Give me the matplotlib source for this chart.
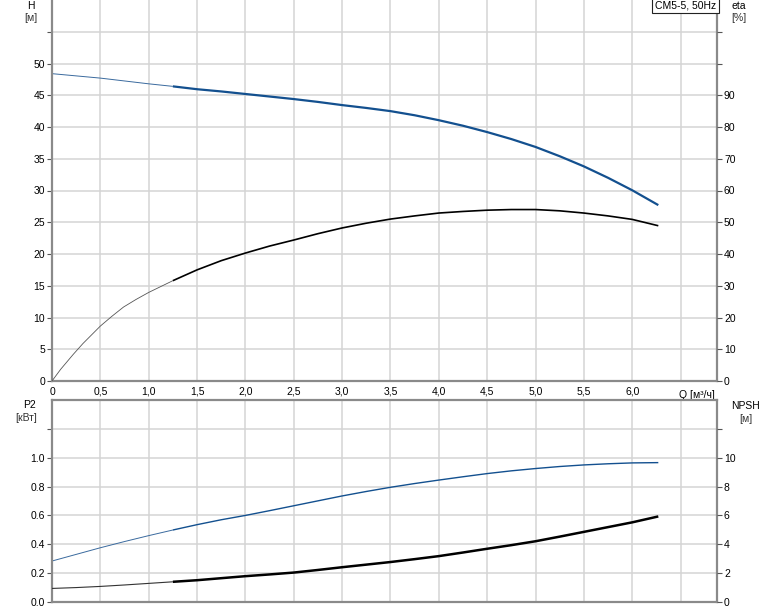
import matplotlib
matplotlib.use("Agg")
import matplotlib.pyplot as plt
import numpy as np

plt.rcParams['font.family'] = ['Liberation Sans', 'DejaVu Sans']

# ---- data ----
q_h = [0, 0.25, 0.5, 0.75, 1.0, 1.25, 1.5, 1.75, 2.0, 2.25, 2.5, 2.75, 3.0, 3.25, 3.5,
       3.75, 4.0, 4.25, 4.5, 4.75, 5.0, 5.25, 5.5, 5.75, 6.0, 6.27]
head = [48.4, 48.05, 47.7, 47.25, 46.8, 46.4, 45.95, 45.6, 45.2, 44.8, 44.4, 43.95, 43.45,
        43.0, 42.5, 41.85, 41.07, 40.2, 39.2, 38.1, 36.86, 35.4, 33.8, 32.0, 30.04, 27.7]

q_eta = [0, 0.09, 0.22, 0.32, 0.5, 0.62, 0.74, 0.87, 1.0, 1.25, 1.5, 1.75, 2.0, 2.25, 2.5,
         2.75, 3.0, 3.25, 3.5, 3.75, 4.0, 4.25, 4.5, 4.75, 5.0, 5.25, 5.5, 5.75, 6.0, 6.27]
eta = [0, 3.7, 8.4, 11.8, 17.3, 20.4, 23.3, 25.7, 27.9, 31.6, 35.0, 37.9, 40.3, 42.5, 44.4,
       46.4, 48.2, 49.7, 51.0, 52.0, 52.9, 53.4, 53.8, 54.0, 54.0, 53.6, 52.9, 52.0, 50.9, 48.9]

q_p = [0, 0.25, 0.5, 0.75, 1.0, 1.25, 1.5, 1.75, 2.0, 2.25, 2.5, 2.75, 3.0, 3.25, 3.5,
       3.75, 4.0, 4.25, 4.5, 4.75, 5.0, 5.25, 5.5, 5.75, 6.0, 6.27]
p2 = [0.284, 0.33, 0.376, 0.419, 0.46, 0.499, 0.536, 0.57, 0.60, 0.633, 0.667, 0.701, 0.735,
      0.766, 0.795, 0.821, 0.845, 0.868, 0.89, 0.909, 0.925, 0.939, 0.95, 0.958, 0.964, 0.966]

q_n = [0, 0.25, 0.5, 0.75, 1.0, 1.25, 1.5, 1.75, 2.0, 2.25, 2.5, 2.75, 3.0, 3.25, 3.5,
       3.75, 4.0, 4.25, 4.5, 4.75, 5.0, 5.25, 5.5, 5.75, 6.0, 6.27]
npsh = [0.94, 1.0, 1.08, 1.18, 1.29, 1.40, 1.51, 1.65, 1.79, 1.91, 2.04, 2.22, 2.41, 2.59,
        2.77, 2.97, 3.18, 3.43, 3.69, 3.94, 4.21, 4.53, 4.86, 5.19, 5.52, 5.93]

q_ticks = [0, 0.5, 1.0, 1.5, 2.0, 2.5, 3.0, 3.5, 4.0, 4.5, 5.0, 5.5, 6.0, 6.5]
q_labels = ['0', '0,5', '1,0', '1,5', '2,0', '2,5', '3,0', '3,5', '4,0', '4,5', '5,0', '5,5', '6,0', '']
h_ticks = [0, 5, 10, 15, 20, 25, 30, 35, 40, 45, 50, 55]
h_labels = ['0', '5', '10', '15', '20', '25', '30', '35', '40', '45', '50', '']
eta_ticks = [0, 10, 20, 30, 40, 50, 60, 70, 80, 90, 100, 110]
eta_labels = ['0', '10', '20', '30', '40', '50', '60', '70', '80', '90', '', '']
p_ticks = [0, 0.2, 0.4, 0.6, 0.8, 1.0, 1.2]
p_labels = ['0.0', '0.2', '0.4', '0.6', '0.8', '1.0', '']
n_ticks = [0, 2, 4, 6, 8, 10, 12]
n_labels = ['0', '2', '4', '6', '8', '10', '']

q_thick = 1.25
BLUE = '#13508f'
SPINE = '#8a8a8a'
GRID = '#d4d4d4'
FS = 7.5

W, H = 774, 611
fig = plt.figure(figsize=(W / 100, H / 100), dpi=100)

ax1 = fig.add_axes([52 / W, 1 - 381 / H, 665 / W, 381 / H])
ax2 = fig.add_axes([52 / W, 1 - 602 / H, 665 / W, 202 / H])
XMAX = 665 / 96.7


def style(ax, top_spine):
    ax.set_xlim(0, XMAX)
    ax.set_xticks(q_ticks)
    ax.grid(True, color=GRID, lw=1.1)
    ax.set_axisbelow(True)
    for s in ['left', 'bottom', 'right']:
        ax.spines[s].set_color(SPINE)
        ax.spines[s].set_linewidth(1.6)
    ax.spines['top'].set_visible(top_spine)
    ax.spines['top'].set_color(SPINE)
    ax.spines['top'].set_linewidth(1.6)
    ax.tick_params(axis='y', length=3.5, width=0.8, color='#555555', labelsize=FS, pad=1.5)
    ax.tick_params(axis='x', length=0, labelsize=FS, pad=4)


def split_plot(ax, q, v, color, thin_lw, thick_lw, thin_color=None):
    q = np.asarray(q, float)
    v = np.asarray(v, float)
    m1 = q <= q_thick
    m2 = q >= q_thick
    ax.plot(q[m1], v[m1], color=thin_color or color, lw=thin_lw, solid_capstyle='butt',
            solid_joinstyle='round')
    ax.plot(q[m2], v[m2], color=color, lw=thick_lw, solid_capstyle='butt',
            solid_joinstyle='round')


# ---- top axes: H and eta ----
style(ax1, False)
ax1.set_ylim(0, 60)
ax1.set_yticks(h_ticks)
ax1.set_yticklabels(h_labels)
ax1.set_xticklabels(q_labels)
split_plot(ax1, q_h, head, BLUE, 0.7, 1.6, thin_color='#3a6a9e')

ax1r = ax1.twinx()
ax1r.set_ylim(0, 120)
ax1r.set_yticks(eta_ticks)
ax1r.set_yticklabels(eta_labels)
ax1r.tick_params(axis='y', length=3.5, width=0.8, color='#555555', labelsize=FS, pad=1.5)
for s in ax1r.spines.values():
    s.set_visible(False)
split_plot(ax1r, q_eta, eta, 'black', 0.6, 1.2, thin_color='#555555')

ax1.text(6.48, -0.024, 'Q [м³/ч]', transform=ax1.get_xaxis_transform(),
         ha='left', va='top', fontsize=FS)
ax1.text(0.9985, 0.999, 'CM5-5, 50Hz', transform=ax1.transAxes, ha='right', va='top',
         fontsize=FS, zorder=10,
         bbox=dict(boxstyle='square,pad=0.25', fc='white', ec='#222222', lw=0.8))

# ---- bottom axes: P2 and NPSH ----
style(ax2, True)
ax2.set_ylim(0, 1.4)
ax2.set_yticks(p_ticks)
ax2.set_yticklabels(p_labels)
ax2.set_xticklabels([])
split_plot(ax2, q_p, p2, BLUE, 0.7, 1.0, thin_color='#3a6a9e')

ax2r = ax2.twinx()
ax2r.set_ylim(0, 14)
ax2r.set_yticks(n_ticks)
ax2r.set_yticklabels(n_labels)
ax2r.tick_params(axis='y', length=3.5, width=0.8, color='#555555', labelsize=FS, pad=1.5)
for s in ax2r.spines.values():
    s.set_visible(False)
split_plot(ax2r, q_n, npsh, 'black', 0.8, 1.8, thin_color='#333333')

# ---- axis titles ----
def ftext(x, y, s, **kw):
    fig.text(x / W, 1 - y / H, s, ha='center', va='center', fontsize=FS, **kw)

ftext(30.5, 6, 'H')
ftext(30.5, 18, '[м]', color='#333333')
ftext(738.5, 6, 'eta')
ftext(738.5, 18, '[%]', color='#333333')
ftext(29, 405, 'P2')
ftext(26, 418, '[кВт]', color='#333333')
ftext(745.5, 406, 'NPSH')
ftext(745.5, 419, '[м]', color='#333333')

fig.savefig('out.png', dpi=100)
